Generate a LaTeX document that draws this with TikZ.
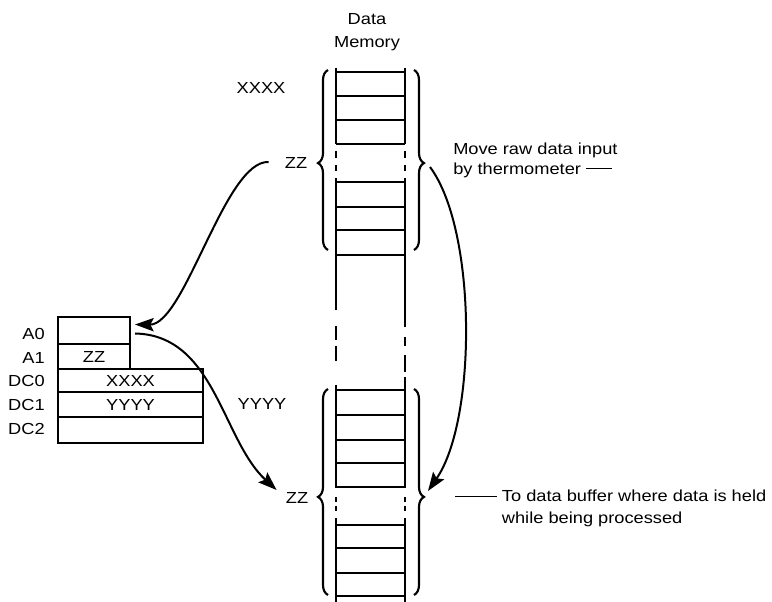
\documentclass[tikz,border=0pt]{standalone}
\usepackage{fontspec}
\setmainfont{Liberation Sans}[FakeStretch=1.14]
\usetikzlibrary{decorations.pathreplacing,arrows.meta,calc}
\begin{document}
\begin{tikzpicture}[x=0.75pt,y=-0.75pt,
  font=\fontsize{12}{15}\selectfont,
  vline/.style={line width=2pt},
  hline/.style={line width=1.4pt},
  membrace/.style={decorate, decoration={brace,amplitude=7.5pt,aspect=#1}, line width=1.6pt},
  flow/.style={line width=1.5pt, -{Stealth[length=14pt,width=10pt,inset=2.5pt]}},
  reg/.style={draw, line width=1.5pt, inner sep=0pt, anchor=north west},
  lbl/.style={inner sep=0pt}]
\useasboundingbox (0,0) rectangle (772,602);

% memory column
\foreach \a/\b in {68/144,151/158,165/171,178/310,326/340,346/361,385/488,497/502,506/511,518/602}
  \draw[vline] (336,\a) -- (336,\b);
\foreach \a/\b in {68/144,151/158,165/171,178/327,337/346,355/372,377/488,497/502,506/511,518/602}
  \draw[vline] (405,\a) -- (405,\b);
\foreach \y in {72,96,120,144,182,207,230,255,390,415,440,463,487,525,548,573,596}
  \draw[hline] (336,\y) -- (405,\y);

% braces
\draw[membrace=0.483] (328,250) -- (328,70);
\draw[membrace=0.517] (414,70) -- (414,250);
\draw[membrace=0.476] (328,595) -- (328,389);
\draw[membrace=0.524] (414,389) -- (414,595);

% labels
\node[lbl, align=center, font=\fontsize{12}{17}\selectfont] (title) at (367,32) {Data\\Memory};
\node[lbl] (xxxx) at (261,88) {XXXX};
\node[lbl] (zztop) at (296,163) {ZZ};
\node[lbl] (yyyy) at (262,404) {YYYY};
\node[lbl] (zzbot) at (297,498) {ZZ};
\node[lbl, anchor=west, align=left] (movenote) at (453,160)
  {Move raw data input\\by thermometer\hspace{4pt}\rule[0.3em]{19pt}{0.7pt}};
\node[lbl, anchor=west, align=left, font=\fontsize{12}{17}\selectfont] (bufnote) at (455,508.5)
  {\rule[0.3em]{31.5pt}{0.7pt}\hspace{3.5pt}To data buffer where data is held\\\hspace*{35pt}while being processed};

% registers
\node[reg, minimum width=54pt, minimum height=20.25pt] (A0) at (57,316) {};
\node[reg, minimum width=54pt, minimum height=18.75pt] (A1) at (57,343) {ZZ};
\node[reg, minimum width=108.75pt, minimum height=17.25pt] (DC0) at (57,368) {XXXX};
\node[reg, minimum width=108.75pt, minimum height=18.75pt] (DC1) at (57,391) {YYYY};
\node[reg, minimum width=108.75pt, minimum height=19.5pt] (DC2) at (57,416) {};
\node[lbl, anchor=east] (lA0) at ($(A0.west)+(-12,3)$) {A0};
\node[lbl, anchor=east] (lA1) at ($(A1.west)+(-12,1)$) {A1};
\node[lbl, anchor=east] (lDC0) at ($(DC0.west)+(-12,0)$) {DC0};
\node[lbl, anchor=east] (lDC1) at ($(DC1.west)+(-12,0)$) {DC1};
\node[lbl, anchor=east] (lDC2) at ($(DC2.west)+(-12,-1)$) {DC2};

% connectors
\coordinate (urtip) at (430,167);
\coordinate (lrtip) at (428,491);
\draw[flow] ($(zztop.west)+(-16,-1)$) .. controls (225,160) and (185,325) .. ($(A0.east)+(4,-6)$);
\draw[flow] ($(A0.east)+(4,3)$) .. controls (215,335) and (222,440) .. ($(zzbot.west)+(-9,-8)$);
\draw[flow] (urtip) .. controls (477,230) and (477,420) .. (lrtip);
\end{tikzpicture}
\end{document}
